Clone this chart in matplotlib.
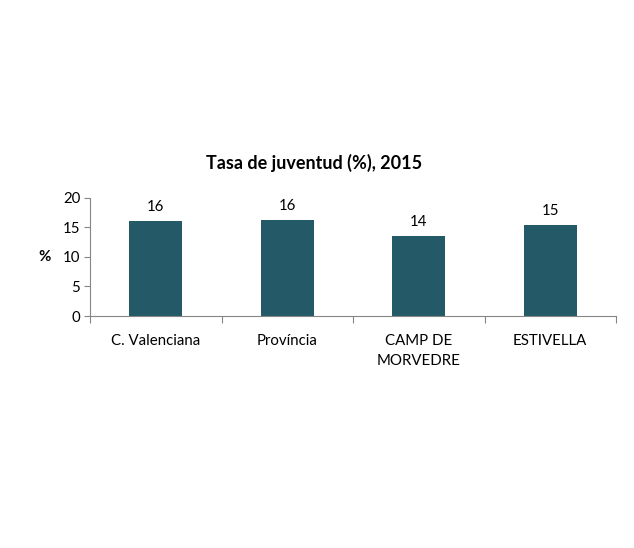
import matplotlib
matplotlib.use("Agg")
import matplotlib.pyplot as plt

categories = ["C. Valenciana", "Província", "CAMP DE\nMORVEDRE", "ESTIVELLA"]
values = [16.1, 16.2, 13.5, 15.4]
labels = ["16", "16", "14", "15"]
yticks = [0, 5, 10, 15, 20]

plt.rcParams['font.family'] = ['Lato', 'DejaVu Sans']

W, H = 634, 548
fig = plt.figure(figsize=(W / 100, H / 100), dpi=100)
ax = fig.add_axes([90 / W, 1 - 316 / H, (616 - 90) / W, (316 - 197.7) / H])

x = list(range(len(categories)))
ax.bar(x, values, width=0.4, color="#245a68", zorder=2)
for xi, v, lab in zip(x, values, labels):
    ax.text(xi, v + 1.2, lab, ha="center", va="bottom", fontsize=10.8, color="#000000")

ax.set_xlim(-0.5, len(categories) - 0.5)
ax.set_ylim(0, 20)
ax.set_yticks(yticks)
ax.set_yticklabels([str(t) for t in yticks], fontsize=10.8)
ax.set_xticks([i - 0.5 for i in range(len(categories) + 1)], minor=False)
ax.set_xticklabels([])
ax.set_xticks(x, minor=True)
ax.set_xticklabels(categories, minor=True, fontsize=10.8, linespacing=1.55)
ax.tick_params(axis="x", which="minor", length=0, pad=13)
ax.tick_params(axis="x", which="major", length=5, color="#868686", width=0.8)
ax.tick_params(axis="y", length=4, color="#868686", width=0.8, pad=3)

for s in ["top", "right"]:
    ax.spines[s].set_visible(False)
for s in ["left", "bottom"]:
    ax.spines[s].set_color("#868686")
    ax.spines[s].set_linewidth(0.8)

fig.text(45 / W, 1 - 257 / H, "%", ha="center", va="center", fontsize=10.8, fontweight="bold")
fig.text(314 / W, 1 - 163 / H, "Tasa de juventud (%), 2015", ha="center", va="center",
         fontsize=13, fontweight="bold")

fig.savefig("out.png", dpi=100, facecolor="white")
